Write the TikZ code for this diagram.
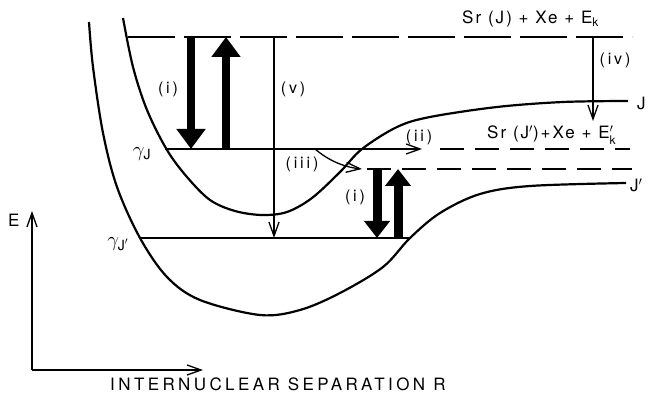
\documentclass[tikz,border=0pt]{standalone}
\usepackage{amsmath}
\usepackage{fontspec}
\setmainfont{TeX Gyre Heros}
\usetikzlibrary{arrows.meta}
\begin{document}
\begin{tikzpicture}[x=1pt,y=-1pt,
  curve/.style={line width=2.2pt,line join=round},
  thinline/.style={line width=1.3pt},
  topdash/.style={line width=1.3pt,dash pattern=on 47pt off 9pt},
  lowdash/.style={line width=1.3pt,dash pattern=on 24pt off 11pt},
  fatarrow/.style={line width=8pt,-{Triangle[width=28pt,length=20pt]}},
  fatarrowsmall/.style={line width=9pt,-{Triangle[width=25pt,length=17pt]}},
  thinarrow/.style={line width=1.3pt,-{Straight Barb[length=14pt,width=10pt,line width=1.3pt]}},
  lab/.style={inner sep=0pt,font={\fontsize{16}{18}\selectfont\addfontfeature{LetterSpace=18}}},
  big/.style={inner sep=0pt,anchor=base west,font={\fontsize{17}{19}\selectfont\addfontfeature{LetterSpace=12}}}
]
\useasboundingbox (0,0) rectangle (650,395);

% potential curves
\draw[curve] plot[smooth,tension=0.55] coordinates {(123,18) (133,67) (147,110) (167,150) (187,177) (210,200) (235,211) (262,215) (287,212) (312,198) (340,172) (362,149) (397,127) (430,117) (497,107) (563,102) (628,101)};
\draw[curve] plot[smooth,tension=0.55] coordinates {(89,22) (93,67) (103,133) (117,187) (140,238) (167,277) (200,300) (260,315) (300,310) (340,293) (383,267) (410,238) (440,213) (480,194) (530,186) (626,183)};

% coordinates
\coordinate (t0) at (128,37);   \coordinate (t1) at (632,37);
\coordinate (gJ) at (165,149);  \coordinate (iiend) at (422,149);
\coordinate (m0) at (440,149);  \coordinate (m1) at (630,149);
\coordinate (l0) at (367,169);  \coordinate (l1) at (632,169);
\coordinate (gJp) at (140,238); \coordinate (gJpe) at (410,238);
\coordinate (iiist) at (315,149); \coordinate (iiiend) at (362,169);
\coordinate (vtop) at (274,37); \coordinate (vbot) at (274,238);
\coordinate (ivtop) at (593,37); \coordinate (ivbot) at (593,121);
\coordinate (a1t) at (191,37); \coordinate (a1b) at (191,149);
\coordinate (a2t) at (226,37); \coordinate (a2b) at (226,149);
\coordinate (a3t) at (377,169); \coordinate (a3b) at (377,238);
\coordinate (a4t) at (398,169); \coordinate (a4b) at (398,238);
\coordinate (orig) at (32,370); \coordinate (ytip) at (32,211); \coordinate (xtip) at (203,370);

% levels
\draw[topdash] (t0) -- (t1);
\draw[thinarrow] (gJ) -- (iiend);
\draw[lowdash] (m0) -- (m1);
\draw[lowdash] (l0) -- (l1);
\draw[thinline] (gJp) -- (gJpe);

% transitions
\draw[thinarrow] (iiist) .. controls (328,160) and (343,167) .. (iiiend);
\draw[thinarrow] (vtop) -- (vbot);
\draw[thinarrow] (ivtop) -- (ivbot);
\draw[fatarrow] (a1t) -- (a1b);
\draw[fatarrow] (a2b) -- (a2t);
\draw[fatarrowsmall] (a3t) -- (a3b);
\draw[fatarrowsmall] (a4b) -- (a4t);

% axes
\draw[thinarrow,line width=1.4pt] (orig) -- (ytip);
\draw[thinarrow,line width=1.4pt] (orig) -- (xtip);

% labels
\node[lab] (li1) at (168,89) {(i)};
\node[lab] (lv) at (293,89) {(v)};
\node[lab] (liv) at (615,60) {(iv)};
\node[lab] (lii) at (419,137) {(ii)};
\node[lab] (liii) at (302,164) {(iii)};
\node[lab] (li2) at (355,197) {(i)};
\node[big] (top) at (462,24) {Sr (J) + Xe + E$_{\text{k}}$};
\node[big] (mid) at (487,139) {Sr (J$'$)+Xe + E$'_{\text{k}}$};
\node[big] (J) at (637,110) {J};
\node[big] (Jp) at (630,192) {J$'$};
\node[big] (E) at (8,227) {E};
\node[inner sep=0pt,font=\fontsize{20}{22}\selectfont] (gam1) at (142,154) {$\gamma_{\text{J}}$};
\node[inner sep=0pt,font=\fontsize{20}{22}\selectfont] (gam2) at (118,244) {$\gamma_{\text{J$'$}}$};
\node[big,font={\fontsize{17}{19}\selectfont\addfontfeature{LetterSpace=20}}] (xlab) at (110,390) {INTERNUCLEAR SEPARATION R};
\end{tikzpicture}
\end{document}
